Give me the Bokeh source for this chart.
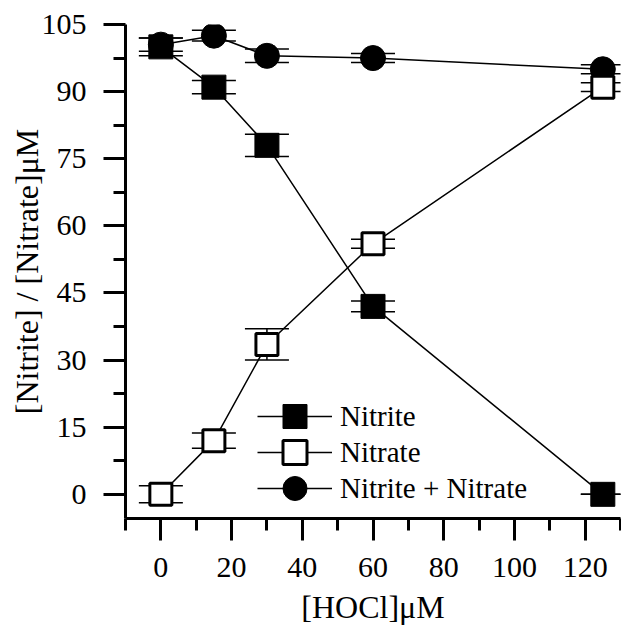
from bokeh.plotting import figure
from bokeh.models import (FixedTicker, Whisker, ColumnDataSource, Legend, LegendItem,
                          Range1d, TeeHead)
from bokeh.embed import file_html
from bokeh.resources import INLINE

# ---- data ----
hocl = [0, 15, 30, 60, 125]
nitrite = [100, 91, 78, 42, 0]
nitrite_err = [2.0, 1.5, 2.5, 1.2, 0.0]
nitrate = [0, 12, 33.5, 56, 91]
nitrate_err = [1.9, 1.7, 3.5, 1.0, 1.0]
total = [100.5, 102.5, 98, 97.5, 95]
total_err = [1.5, 1.2, 1.5, 1.0, 1.0]

x_ticks = [0, 20, 40, 60, 80, 100, 120]
x_minor = [-10, 10, 30, 50, 70, 90, 110, 130]
y_ticks = [0, 15, 30, 45, 60, 75, 90, 105]
y_minor = [7.5, 22.5, 37.5, 52.5, 67.5, 82.5, 97.5]

series_labels = ["Nitrite", "Nitrate", "Nitrite + Nitrate"]

FONT = "Liberation Serif"

p = figure(width=621, height=633, output_backend="svg", toolbar_location=None,
           x_range=Range1d(-10, 130), y_range=Range1d(-5.4, 105),
           min_border_left=125, min_border_right=1, min_border_top=24,
           min_border_bottom=115)
p.outline_line_color = None
p.xgrid.grid_line_color = None
p.ygrid.grid_line_color = None
p.background_fill_color = "white"
p.border_fill_color = "white"

def mksrc(y, e):
    return ColumnDataSource(dict(x=hocl, y=y,
                                 lo=[a - b for a, b in zip(y, e)],
                                 hi=[a + b for a, b in zip(y, e)]))

src_nitrite = mksrc(nitrite, nitrite_err)
src_nitrate = mksrc(nitrate, nitrate_err)
src_total = mksrc(total, total_err)

for src in (src_total, src_nitrite, src_nitrate):
    w = Whisker(source=src, base="x", upper="hi", lower="lo", line_width=1.5,
                line_color="black",
                upper_head=TeeHead(size=44, line_width=1.5, line_color="black"),
                lower_head=TeeHead(size=44, line_width=1.5, line_color="black"))
    p.add_layout(w)

l_total = p.line("x", "y", source=src_total, line_color="black", line_width=1.5)
l_nitrite = p.line("x", "y", source=src_nitrite, line_color="black", line_width=1.5)
l_nitrate = p.line("x", "y", source=src_nitrate, line_color="black", line_width=1.5)

m_total = p.scatter("x", "y", source=src_total, marker="circle", size=25,
                    fill_color="black", line_color="black")
m_nitrite = p.scatter("x", "y", source=src_nitrite, marker="square", size=24,
                      fill_color="black", line_color="black")
m_nitrate = p.scatter("x", "y", source=src_nitrate, marker="square", size=22,
                      fill_color="white", line_color="black", line_width=3)

for ax in (p.xaxis[0], p.yaxis[0]):
    ax.axis_line_width = 3
    ax.major_tick_line_width = 3
    ax.minor_tick_line_width = 3
    ax.major_tick_in = 0
    ax.minor_tick_in = 0
    ax.major_tick_out = 22
    ax.minor_tick_out = 12
    ax.major_label_text_font = FONT
    ax.major_label_text_font_size = "30px"
    ax.major_label_text_color = "black"
    ax.axis_label_text_font = FONT
    ax.axis_label_text_font_size = "32px"
    ax.axis_label_text_font_style = "normal"
    ax.axis_label_text_color = "black"

p.xaxis.ticker = FixedTicker(ticks=x_ticks, minor_ticks=x_minor)
p.yaxis.ticker = FixedTicker(ticks=y_ticks, minor_ticks=y_minor)
p.xaxis.major_label_standoff = 17
p.yaxis.major_label_standoff = 17
p.xaxis.axis_label = "[HOCl]\u03bcM"
p.yaxis.axis_label = "[Nitrite] / [Nitrate]\u03bcM"
p.xaxis.axis_label_standoff = 9
p.yaxis.axis_label_standoff = -6

pairs = [(l_nitrite, m_nitrite), (l_nitrate, m_nitrate), (l_total, m_total)]
offsets = [72, 36, 0]
for lab, (ln, mk), off in zip(series_labels, pairs, offsets):
    lg = Legend(items=[LegendItem(label=lab, renderers=[ln, mk])],
                location=(132, off), glyph_width=75, glyph_height=60,
                padding=0, margin=0, label_standoff=8,
                label_text_font=FONT, label_text_font_size="29px",
                label_text_color="black",
                border_line_alpha=0, background_fill_alpha=0)
    p.add_layout(lg, "center")

open("out.html", "w").write(file_html(p, INLINE))
